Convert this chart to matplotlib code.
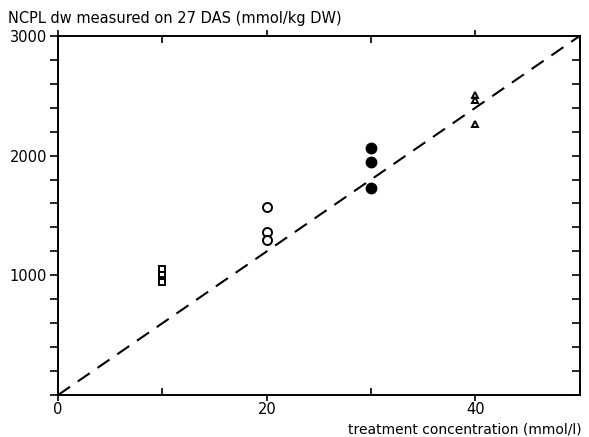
import numpy as np
import matplotlib.pyplot as plt
from matplotlib.ticker import MultipleLocator

# Data
conc_10 = [10, 10, 10, 10]
ncpl_10 = [1050, 1005, 965, 940]
conc_20 = [20, 20, 20]
ncpl_20 = [1570, 1365, 1295]
conc_30 = [30, 30, 30]
ncpl_30 = [2065, 1950, 1725]
conc_40 = [40, 40, 40]
ncpl_40 = [2510, 2460, 2260]
line_x = [0, 50]
line_y = [0, 3000]

plt.rcParams['font.family'] = 'DejaVu Sans'
fig = plt.figure(figsize=(5.89, 4.37), dpi=100)
ax = fig.add_axes([0.0985, 0.096, 0.886, 0.822])

ax.plot(line_x, line_y, color='k', lw=1.5, dashes=(7, 4.5))
ax.plot(conc_10, ncpl_10, 's', ms=5, mfc='white', mec='k', mew=1.4)
ax.plot(conc_20, ncpl_20, 'o', ms=6.5, mfc='white', mec='k', mew=1.4)
ax.plot(conc_30, ncpl_30, 'o', ms=7.5, mfc='k', mec='k')
ax.plot(conc_40, ncpl_40, '^', ms=5, mfc='white', mec='k', mew=1.4)

ax.set_xlim(0, 50)
ax.set_ylim(0, 3000)
for s in ax.spines.values():
    s.set_linewidth(1.4)

ax.set_xticks([0, 20, 40])
ax.xaxis.set_minor_locator(MultipleLocator(10))
ax.tick_params(axis='x', which='major', direction='out', length=4, width=1.2, top=True,
               labelsize=10.5, pad=1)
ax.tick_params(axis='x', which='minor', direction='in', length=5, width=1.2, top=True)

# right side: inward ticks every 200
ax.yaxis.set_major_locator(MultipleLocator(200))
ax.tick_params(axis='y', which='both', left=False, right=True, labelleft=False,
               direction='in', length=6, width=1.2)

# left side: outward ticks, labels at 1000s
left = ax.secondary_yaxis('left')
left.set_yticks([1000, 2000, 3000])
left.yaxis.set_minor_locator(MultipleLocator(200))
left.tick_params(axis='y', which='both', direction='out', length=6, width=1.2,
                 labelsize=10.5, pad=2)
left.spines['left'].set_linewidth(1.4)

fig.text(0.014, 0.957, 'NCPL dw measured on 27 DAS (mmol/kg DW)', fontsize=10.5, va='center')
fig.text(0.987, 0.018, 'treatment concentration (mmol/l)', fontsize=10, ha='right', va='center')

fig.savefig('out.png', dpi=100)
